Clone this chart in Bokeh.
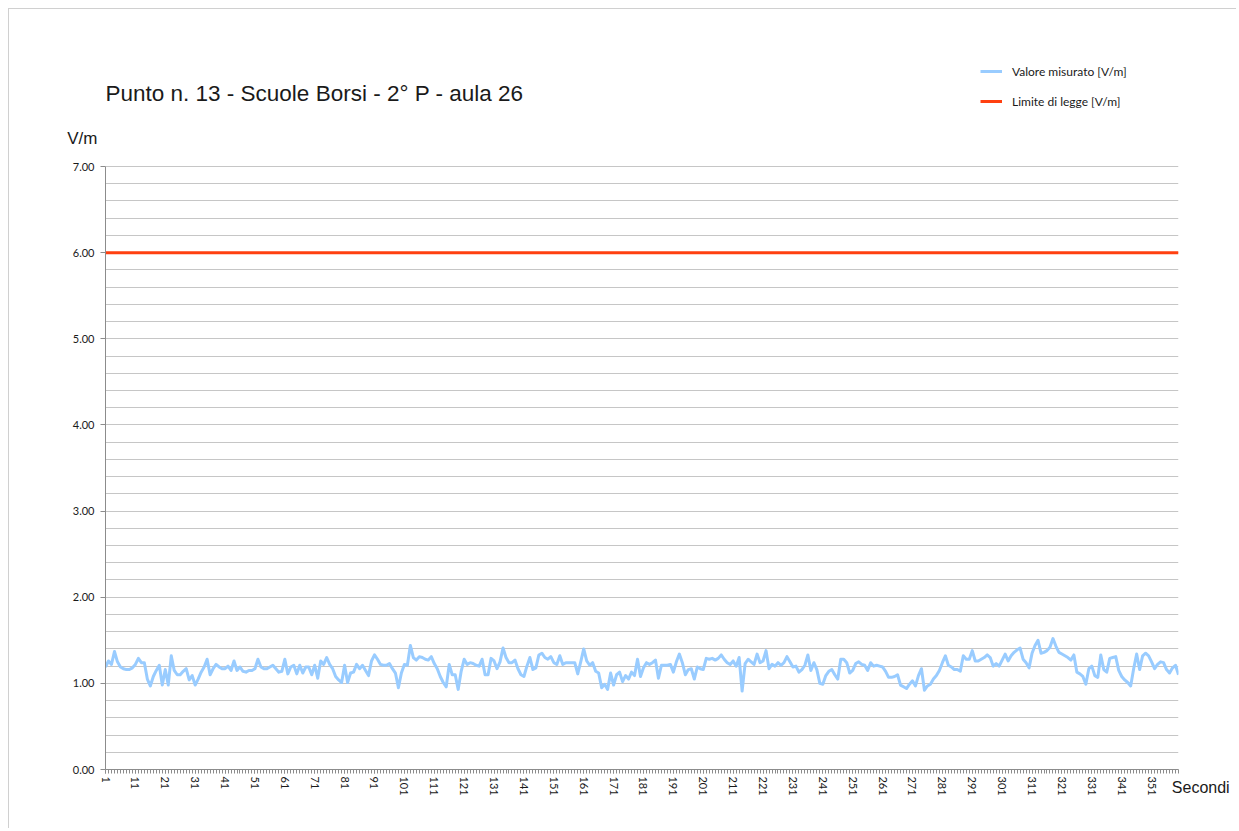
from bokeh.plotting import figure
from bokeh.models import (FixedTicker, Legend, LegendItem, CustomJSTickFormatter, Range1d,
                          Label, LinearAxis)
from bokeh.embed import file_html
from bokeh.resources import INLINE

title_text = "Punto n. 13 - Scuole Borsi - 2° P - aula 26"
y_label = "V/m"
x_label = "Secondi"
series_names = ["Valore misurato [V/m]", "Limite di legge [V/m]"]

measured = [
    1.19, 1.26, 1.22, 1.37, 1.25, 1.19, 1.17, 1.16, 1.16, 1.18,
    1.22, 1.29, 1.24, 1.24, 1.05, 0.97, 1.08, 1.15, 1.21, 0.98,
    1.16, 0.98, 1.32, 1.15, 1.10, 1.10, 1.14, 1.17, 1.04, 1.09,
    0.98, 1.05, 1.13, 1.19, 1.28, 1.10, 1.17, 1.22, 1.19, 1.17,
    1.17, 1.20, 1.15, 1.26, 1.15, 1.19, 1.14, 1.13, 1.15, 1.15,
    1.17, 1.28, 1.19, 1.17, 1.17, 1.19, 1.21, 1.17, 1.13, 1.14,
    1.28, 1.11, 1.19, 1.21, 1.11, 1.21, 1.12, 1.19, 1.19, 1.10,
    1.21, 1.06, 1.26, 1.22, 1.30, 1.22, 1.17, 1.08, 1.04, 1.01,
    1.21, 1.01, 1.12, 1.13, 1.22, 1.17, 1.21, 1.15, 1.09, 1.26,
    1.33, 1.28, 1.22, 1.21, 1.21, 1.23, 1.17, 1.12, 0.95, 1.12,
    1.22, 1.21, 1.44, 1.30, 1.27, 1.31, 1.30, 1.28, 1.27, 1.31,
    1.23, 1.17, 1.08, 1.01, 0.96, 1.22, 1.10, 1.10, 0.93, 1.14,
    1.28, 1.22, 1.24, 1.23, 1.21, 1.20, 1.28, 1.10, 1.10, 1.29,
    1.26, 1.17, 1.25, 1.41, 1.30, 1.24, 1.24, 1.27, 1.17, 1.10,
    1.08, 1.20, 1.30, 1.16, 1.18, 1.33, 1.35, 1.30, 1.28, 1.31,
    1.24, 1.22, 1.32, 1.22, 1.24, 1.24, 1.24, 1.24, 1.11, 1.25,
    1.40, 1.26, 1.21, 1.24, 1.14, 1.12, 0.95, 0.99, 0.93, 1.12,
    0.98, 1.10, 1.13, 1.02, 1.09, 1.05, 1.13, 1.09, 1.28, 1.08,
    1.18, 1.24, 1.22, 1.24, 1.27, 1.06, 1.21, 1.21, 1.21, 1.22,
    1.13, 1.25, 1.34, 1.24, 1.10, 1.16, 1.17, 1.05, 1.19, 1.17,
    1.16, 1.29, 1.28, 1.29, 1.27, 1.29, 1.33, 1.28, 1.24, 1.22,
    1.26, 1.20, 1.30, 0.91, 1.23, 1.28, 1.25, 1.22, 1.34, 1.24,
    1.26, 1.38, 1.17, 1.22, 1.20, 1.24, 1.21, 1.24, 1.31, 1.25,
    1.19, 1.20, 1.13, 1.16, 1.21, 1.33, 1.15, 1.24, 1.16, 1.00,
    0.99, 1.09, 1.14, 1.16, 1.10, 1.05, 1.28, 1.28, 1.24, 1.12,
    1.15, 1.23, 1.25, 1.22, 1.21, 1.15, 1.24, 1.20, 1.21, 1.20,
    1.19, 1.14, 1.07, 1.07, 1.08, 1.10, 0.98, 0.96, 0.94, 0.99,
    1.03, 0.97, 1.09, 1.17, 0.92, 0.97, 0.99, 1.05, 1.09, 1.15,
    1.24, 1.32, 1.21, 1.19, 1.16, 1.16, 1.14, 1.32, 1.28, 1.28,
    1.38, 1.26, 1.26, 1.28, 1.30, 1.33, 1.30, 1.20, 1.23, 1.20,
    1.27, 1.34, 1.26, 1.32, 1.36, 1.39, 1.41, 1.28, 1.24, 1.18,
    1.35, 1.44, 1.50, 1.35, 1.36, 1.38, 1.42, 1.52, 1.43, 1.36,
    1.34, 1.32, 1.30, 1.27, 1.33, 1.13, 1.11, 1.08, 0.99, 1.17,
    1.20, 1.09, 1.07, 1.33, 1.16, 1.13, 1.29, 1.30, 1.31, 1.15,
    1.08, 1.04, 1.01, 0.97, 1.17, 1.34, 1.16, 1.32, 1.35, 1.32,
    1.25, 1.17, 1.22, 1.25, 1.24, 1.16, 1.12, 1.18, 1.21, 1.10,
]
seconds = list(range(1, len(measured) + 1))
limit_value = 6.0
limit = [limit_value for _ in seconds]
x_tick_labels = [s for s in seconds if (s - 1) % 10 == 0]
y_tick_values = [0, 1, 2, 3, 4, 5, 6, 7]
y_grid_values = [i / 5 for i in range(0, 36)]
y_max = 7

BLUE = "#99CCFF"
RED = "#FF4010"
GRID = "#c6c6c6"
AXIS = "#8c8c8c"
TXT = "#1a1a1a"

# canvas geometry (page pixels); figure box starts at 9,9 (8px margin + 1px border)
OFF = 9
W, H = 1228, 820
C_LEFT, C_RIGHT, C_TOP7, C_BOTTOM = 105, 1178, 166, 769
FL, FR, FB = C_LEFT - OFF, C_RIGHT - OFF, C_BOTTOM - OFF
px_per_unit = (C_BOTTOM - C_TOP7) / y_max
y_top = FB / px_per_unit          # frame reaches the top of the figure


def ydata(cy):
    return (C_BOTTOM - cy) / px_per_unit


p = figure(width=W, height=H, output_backend="svg", toolbar_location=None,
           x_range=Range1d(1, len(seconds)), y_range=Range1d(0, y_top),
           min_border_left=FL, min_border_right=W - FR,
           min_border_top=0, min_border_bottom=H - FB)
p.outline_line_color = None
p.background_fill_color = "white"
p.border_fill_color = "white"
p.styles = {"margin-left": "8px", "margin-top": "8px",
            "border-left": "1px solid #d0d0d0", "border-top": "1px solid #d0d0d0"}

p.xgrid.visible = False
p.ygrid.ticker = FixedTicker(ticks=y_grid_values)
p.ygrid.grid_line_color = GRID
p.ygrid.grid_line_width = 1

p.yaxis.ticker = FixedTicker(ticks=y_tick_values)
p.yaxis.bounds = (0, y_max)
p.yaxis.formatter = CustomJSTickFormatter(code="return tick.toFixed(2);")
p.yaxis.axis_line_color = AXIS
p.yaxis.major_tick_line_color = AXIS
p.yaxis.major_tick_out = 5
p.yaxis.major_tick_in = 0
p.yaxis.minor_tick_line_color = None
p.yaxis.major_label_text_font = "Lato"
p.yaxis.major_label_text_font_size = "11px"
p.yaxis.major_label_text_color = TXT
p.yaxis.major_label_standoff = 6

p.xaxis.ticker = FixedTicker(ticks=x_tick_labels, minor_ticks=seconds)
p.xaxis.axis_line_color = AXIS
p.xaxis.major_tick_line_color = AXIS
p.xaxis.minor_tick_line_color = AXIS
p.xaxis.major_tick_out = 4
p.xaxis.major_tick_in = 0
p.xaxis.minor_tick_out = 4
p.xaxis.minor_tick_in = 0
p.xaxis.major_label_orientation = "vertical"
p.xaxis.major_label_text_font = "Lato"
p.xaxis.major_label_text_font_size = "11px"
p.xaxis.major_label_text_color = TXT
p.xaxis.major_label_standoff = 3

# unit label of the y axis: a second, bare axis carrying one label
y_unit_pos = ydata(138)
unit_axis = LinearAxis(ticker=FixedTicker(ticks=[y_unit_pos]),
                       major_label_overrides={y_unit_pos: y_label},
                       axis_line_color=None, major_tick_line_color=None,
                       minor_tick_line_color=None, major_tick_out=0, major_tick_in=0,
                       minor_tick_out=0, minor_tick_in=0, major_label_standoff=-28,
                       major_label_text_font="Liberation Sans",
                       major_label_text_font_size="17px", major_label_text_color=TXT)
p.add_layout(unit_axis, "left")

# unit label of the x axis: a second, bare axis below, one label at the last second
x_unit_pos = seconds[-1]
pad = "\u00a0" * 10
secs_axis = LinearAxis(ticker=FixedTicker(ticks=[x_unit_pos]),
                       major_label_overrides={x_unit_pos: pad + x_label},
                       axis_line_color=None, major_tick_line_color=None,
                       minor_tick_line_color=None, major_tick_out=0, major_tick_in=0,
                       minor_tick_out=0, minor_tick_in=0, major_label_standoff=-20,
                       major_label_orientation="horizontal",
                       major_label_text_font="Liberation Sans",
                       major_label_text_font_size="16px", major_label_text_color=TXT)
p.add_layout(secs_axis, "below")

r_meas = p.line(seconds, measured, line_color=BLUE, line_width=3, line_join="round")
r_lim = p.line(seconds, limit, line_color=RED, line_width=3)

legend = Legend(items=[LegendItem(label=series_names[0], renderers=[r_meas]),
                       LegendItem(label=series_names[1], renderers=[r_lim])],
                location=(980 - C_LEFT, C_BOTTOM - 111), orientation="vertical",
                glyph_width=22, glyph_height=20, label_height=20, spacing=10, label_standoff=10,
                padding=0, margin=0, border_line_color=None, background_fill_alpha=0,
                label_text_font="Lato", label_text_font_size="12px", label_text_color=TXT)
p.add_layout(legend, "center")

p.add_layout(Label(x=seconds[0], y=ydata(93), text=title_text,
                   text_font="Liberation Sans", text_font_size="22.5px",
                   text_baseline="middle", text_color=TXT))

open("out.html", "w").write(file_html(p, INLINE))
